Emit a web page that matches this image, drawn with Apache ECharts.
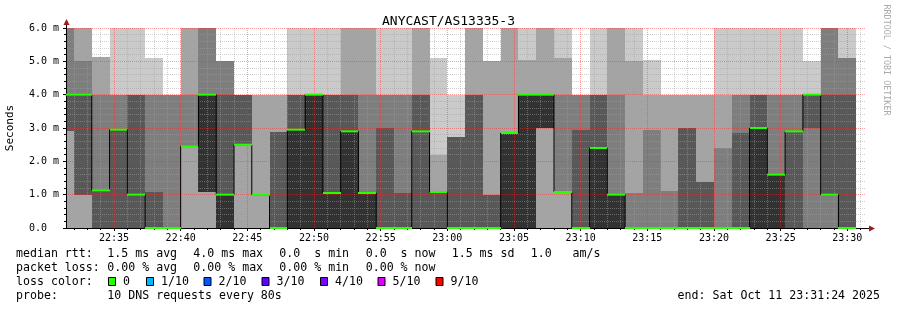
<!DOCTYPE html>
<html><head><meta charset="utf-8">
<script src="https://cdn.jsdelivr.net/npm/echarts@6/dist/echarts.min.js"></script>
<style>html,body{margin:0;padding:0;background:#fff}#c{width:897px;height:310px}</style>
</head><body><div id="c"></div>
<script>
// ---- data ----
const chartTitle = 'ANYCAST/AS13335-3';
const axisStart = '22:31:24';
const axisEnd = '23:31:24';
const binTimes = ['22:30:40','22:32:00','22:33:20','22:34:40','22:36:00','22:37:20','22:38:40','22:40:00','22:41:20','22:42:40',
  '22:44:00','22:45:20','22:46:40','22:48:00','22:49:20','22:50:40','22:52:00','22:53:20','22:54:40','22:56:00',
  '22:57:20','22:58:40','23:00:00','23:01:20','23:02:40','23:04:00','23:05:20','23:06:40','23:08:00','23:09:20',
  '23:10:40','23:12:00','23:13:20','23:14:40','23:16:00','23:17:20','23:18:40','23:20:00','23:21:20','23:22:40',
  '23:24:00','23:25:20','23:26:40','23:28:00','23:29:20'];
const binEndTime = '23:30:40';
// sorted ping times (ms) per bin, ping1 = fastest .. ping10 = slowest
const ping1 = [0,0,0,0,0,0,0,0,0,0, 0,0,0,0,0,0,0,0,0,0, 0,0,0,0,0,0,0,0,0,0, 0,0,0,0,0,0,0,0,0,0, 0,0,0,0,0];
const ping2 = [0,0,0,0,0,0,0,0,0,0, 0,0,0,0,0,0,0,0,0,0, 0,0,0,0,0,0,0,0,0,0, 0,0,0,0,0,0,0,0,0,0, 0,0,0,0,0];
const ping3 = [2.9,1.0,0,0,0,0,0,2.45,1.08,0, 2.5,1.0,0,0,0,0,0,0,0,0, 0,0,0,0,0,0,0,3.0,1.08,0, 0,0,0,0,0,0,0,0,0,0, 0,0,0,0,0];
const ping4 = [2.9,1.0,0,0,0,0,0,2.45,1.08,0, 2.5,1.0,0,0,0,0,0,0,0,0, 0,0,0,0,0,0,0,3.0,1.08,0, 0,0,0,0,0,0,0,0,0,0, 0,0,3.0,1.0,0];
const ping5 = [4.0,4.0,1.13,2.95,1.0,0,0,2.45,1.08,0, 2.5,1.0,0,0,0,0,0,0,0,0, 2.9,1.08,0,0,0,0,0,3.0,1.08,0, 0,0,0,0,0,0,0,0,0,0, 0,2.9,4.0,1.0,0];
const ping6 = [4.0,4.0,1.13,2.95,1.0,0,0,2.45,4.0,1.0, 2.5,1.0,0,2.95,4.0,1.05,2.9,1.05,0,0, 2.9,1.08,0,0,0,2.85,4.0,4.0,1.08,0, 2.4,1.0,0,0,0,0,0,0,0,3.0, 1.6,2.9,4.0,1.0,0];
const ping7 = [4.0,4.0,1.13,2.95,4.0,1.08,0,2.45,4.0,4.0, 4.0,1.0,2.88,4.0,4.0,4.0,4.0,1.05,3.0,1.05, 4.0,1.08,2.73,4.0,1.0,2.85,4.0,4.0,1.08,2.95, 4.0,1.0,0,0,0,3.0,1.38,0,2.85,4.0, 1.6,2.9,4.0,4.0,4.0];
const ping8 = [6.6,5.0,4.0,4.0,4.0,4.0,4.0,4.0,6.6,5.0, 4.0,1.0,2.88,4.0,4.0,4.0,4.0,4.0,4.0,4.0, 4.0,1.08,2.73,4.0,1.0,2.85,4.0,4.0,4.0,4.0, 4.0,4.0,1.05,2.95,1.1,3.0,1.38,2.4,4.0,4.0, 4.0,4.0,4.0,6.6,5.1];
const ping9 = [6.6,6.6,5.13,4.0,4.0,4.0,4.0,6.6,6.6,5.0, 4.0,4.0,4.0,4.0,4.0,4.0,6.6,6.6,4.0,4.0, 6.6,2.2,2.73,6.6,5.0,6.6,5.05,6.6,5.1,4.0, 4.0,6.6,5.0,4.0,4.0,4.0,4.0,4.0,4.0,4.0, 4.0,4.0,4.0,6.6,5.1];
const ping10 = [6.6,6.6,5.13,6.6,6.6,5.1,4.0,6.6,6.6,5.0, 4.0,4.0,4.0,6.6,6.6,6.6,6.6,6.6,6.6,6.6, 6.6,5.1,4.0,6.6,5.0,6.6,6.6,6.6,6.6,4.0, 6.6,6.6,6.6,5.05,4.0,4.0,4.0,6.6,6.6,6.6, 6.6,6.6,5.0,6.6,6.6];
const median = [4.0,4.0,1.13,2.95,1.0,0,0,2.45,4.0,1.0, 2.5,1.0,0,2.95,4.0,1.05,2.9,1.05,0,0, 2.9,1.08,0,0,0,2.85,4.0,4.0,1.08,0, 2.4,1.0,0,0,0,0,0,0,0,3.0, 1.6,2.9,4.0,1.0,0];
const xTickLabels = ['22:35','22:40','22:45','22:50','22:55','23:00','23:05','23:10','23:15','23:20','23:25','23:30'];
const yTickLabels = ['0.0','1.0 m','2.0 m','3.0 m','4.0 m','5.0 m','6.0 m'];
const lossLabels = ['0','1/10','2/10','3/10','4/10','5/10','9/10'];
const lossColors = ['#26ff00','#00b8ff','#0059ff','#5e00ff','#7e00ff','#dd00ff','#ff0000'];
const legendRows = [
  ['median rtt:', '1.5 ms avg', '4.0 ms max', '0.0  s min', '0.0  s now', '1.5 ms sd', '1.0   am/s'],
  ['packet loss:', '0.00 % avg', '0.00 % max', '0.00 % min', '0.00 % now'],
  ['loss color:'],
  ['probe:', '10 DNS requests every 80s']
];
const endText = 'end: Sat Oct 11 23:31:24 2025';
const sideText = 'RRDTOOL / TOBI OETIKER';

// ---- helpers ----
function toSec(s){ const p = s.split(':').map(Number); return p[0]*3600 + p[1]*60 + (p[2]||0); }
const MONO = "'DejaVu Sans Mono', monospace";
const xMin = toSec(axisStart), xMax = toSec(axisEnd);
const majorVals = xTickLabels.map(toSec);
const minorVals = [];
for (let m = Math.ceil(xMin/60); m*60 <= xMax; m++) { if (m % 5 !== 0) minorVals.push(m*60); }

const pings = [ping1,ping2,ping3,ping4,ping5,ping6,ping7,ping8,ping9,ping10];
const bandColors = ['#cacaca','#a4a4a4','#7e7e7e','#585858','#323232','#585858','#7e7e7e','#a4a4a4','#cacaca'];
const binEnds = binTimes.map((t,i) => i+1 < binTimes.length ? toSec(binTimes[i+1]) : toSec(binEndTime));
const bandData = binTimes.map((t,i) => [toSec(t), binEnds[i]].concat(pings.map(p => p[i])));
const medData = binTimes.map((t,i) => [toSec(t), binEnds[i], median[i]]);
const stepData = binTimes.map((t,i) => [toSec(t), median[i]]);
stepData.push([toSec(binEndTime), median[median.length-1]]);

const chart = echarts.init(document.getElementById('c'), null, {renderer:'canvas'});

const gridLeft = 66, gridTop = 28, gridRight = 31, gridBottom = 82;
const graphics = [];
// axis extensions and arrows
graphics.push({type:'line', shape:{x1:866, y1:228.5, x2:870, y2:228.5}, style:{stroke:'#000', lineWidth:1}, z:10});
graphics.push({type:'line', shape:{x1:66.5, y1:28, x2:66.5, y2:22}, style:{stroke:'#000', lineWidth:1}, z:10});
graphics.push({type:'polygon', shape:{points:[[869,225.5],[875,228.5],[869,231.5]]}, style:{fill:'#a01818'}, z:10});
graphics.push({type:'polygon', shape:{points:[[63.5,25],[66.5,19],[69.5,25]]}, style:{fill:'#a01818'}, z:10});
// legend rows
const rowY = [254, 268, 282, 296];
const colX = [16, 107.3, 193.3, 279.3, 365.7, 451.7, 530.7];
legendRows.forEach((row, r) => {
  row.forEach((txt, c) => {
    graphics.push({type:'text', style:{text:txt, x:colX[c], y:rowY[r], font:'11.6px ' + MONO, fill:'#000', textAlign:'left', textVerticalAlign:'middle'}});
  });
});
const boxX = [108, 146, 203.5, 261.5, 320, 377.5, 435.5];
lossLabels.forEach((lab, i) => {
  graphics.push({type:'rect', shape:{x:boxX[i]+0.5, y:277.5, width:7, height:8}, style:{fill:lossColors[i], stroke:'#000', lineWidth:1}});
  graphics.push({type:'text', style:{text:lab, x:boxX[i]+15, y:282, font:'11.6px ' + MONO, fill:'#000', textAlign:'left', textVerticalAlign:'middle'}});
});
graphics.push({type:'text', style:{text:endText, x:880, y:296, font:'11.6px ' + MONO, fill:'#000', textAlign:'right', textVerticalAlign:'middle'}});
graphics.push({type:'text', x:886.5, y:60, rotation:-Math.PI/2, style:{text:sideText, x:0, y:0, font:'8.4px ' + MONO, fill:'#aaaaaa', textAlign:'center', textVerticalAlign:'middle'}});

const option = {
  backgroundColor:'#ffffff',
  animation:false,
  title:{text:chartTitle, left:'center', top:10, textStyle:{fontFamily:MONO, fontSize:13, fontWeight:'normal', color:'#000'}},
  grid:{left:gridLeft, right:gridRight, top:gridTop, bottom:gridBottom, containLabel:false, outerBoundsMode:'none'},
  xAxis:[{
    type:'value', min:xMin, max:xMax, z:5,
    axisLine:{show:true, lineStyle:{color:'#000', width:1}},
    axisTick:{show:true, length:3, customValues:majorVals, lineStyle:{color:'#000'}},
    axisLabel:{show:true, customValues:majorVals, margin:5, fontFamily:MONO, fontSize:10, color:'#000',
      formatter:(v) => { const i = majorVals.indexOf(v); return i >= 0 ? xTickLabels[i] : ''; }},
    splitLine:{show:true, lineStyle:{color:'rgba(255,40,40,0.45)', type:[1,1], width:1}}
  },{
    type:'value', min:xMin, max:xMax, z:4, position:'bottom',
    axisLine:{show:false},
    axisTick:{show:true, length:2, customValues:minorVals, lineStyle:{color:'#000'}},
    axisLabel:{show:false},
    splitLine:{show:true, lineStyle:{color:'rgba(160,160,160,0.5)', type:[1,1], width:1}}
  }],
  yAxis:{
    type:'value', min:0, max:6, interval:1, z:5,
    name:'Seconds', nameLocation:'middle', nameGap:50, nameRotate:90,
    nameTextStyle:{fontFamily:MONO, fontSize:11, color:'#000'},
    axisLine:{show:true, lineStyle:{color:'#000', width:1}},
    axisTick:{show:true, length:3, lineStyle:{color:'#000'}},
    minorTick:{show:true, splitNumber:5, length:2, lineStyle:{color:'#000'}},
    axisLabel:{align:'left', margin:37, fontFamily:MONO, fontSize:10, color:'#000',
      formatter:(v) => yTickLabels[Math.round(v)] || ''},
    splitLine:{show:true, lineStyle:{color:'rgba(255,40,40,0.45)', type:[1,1], width:1}},
    minorSplitLine:{show:true, lineStyle:{color:'rgba(160,160,160,0.5)', type:[1,1], width:1}}
  },
  series:[{
    type:'custom', name:'smoke', z:1, xAxisIndex:0,
    encode:{x:[0,1], y:[2,3,4,5,6,7,8,9,10,11]},
    data:bandData,
    renderItem:(params, api) => {
      const cs = params.coordSys;
      const x0 = api.coord([api.value(0), 0])[0], x1 = api.coord([api.value(1), 0])[0];
      const left = Math.max(Math.round(x0), cs.x), right = Math.min(Math.round(x1), cs.x + cs.width);
      const children = [];
      if (right <= left) return {type:'group', children};
      for (let b = 0; b < 9; b++) {
        const lo = api.value(2+b), hi = api.value(3+b);
        if (hi <= lo) continue;
        let yTop = Math.max(Math.round(api.coord([0, hi])[1]), cs.y);
        let yBot = Math.min(Math.round(api.coord([0, lo])[1]), cs.y + cs.height);
        if (yBot <= yTop) continue;
        children.push({type:'rect', shape:{x:left, y:yTop, width:right-left, height:yBot-yTop}, style:{fill:bandColors[b]}});
      }
      return {type:'group', children};
    }
  },{
    type:'line', name:'median step', z:6, xAxisIndex:0, step:'end', symbol:'none',
    data:stepData, lineStyle:{color:'#000', width:1}, clip:true
  },{
    type:'custom', name:'median', z:7, xAxisIndex:0,
    encode:{x:[0,1], y:2},
    data:medData,
    renderItem:(params, api) => {
      const cs = params.coordSys;
      const x0 = Math.max(Math.round(api.coord([api.value(0), 0])[0]), cs.x);
      const x1 = Math.min(Math.round(api.coord([api.value(1), 0])[0]), cs.x + cs.width);
      const y = api.coord([0, api.value(2)])[1];
      return {type:'line', shape:{x1:x0, y1:y, x2:x1, y2:y}, style:{stroke:'#26ff00', lineWidth:2}};
    }
  }],
  graphic:graphics
};
chart.setOption(option);
</script></body></html>
